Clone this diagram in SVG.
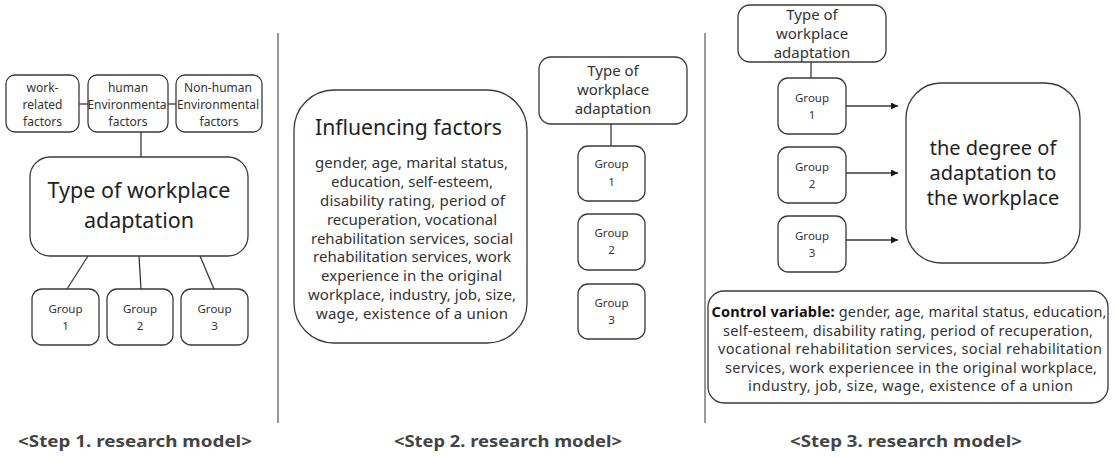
<svg xmlns="http://www.w3.org/2000/svg" width="1115" height="458" viewBox="0 0 1115 458">
  <defs>
    <marker id="arrow" viewBox="0 0 10 10" refX="10" refY="5" markerWidth="7" markerHeight="7" markerUnits="userSpaceOnUse" orient="auto">
      <path d="M0,0 L10,5 L0,10 z" fill="#1a1a1a"/>
    </marker>
    <style>
      .box { fill: #ffffff; stroke: #3a3a3a; stroke-width: 1.3; }
      .link { stroke: #3a3a3a; stroke-width: 1.3; fill: none; }
      .divider { stroke: #555555; stroke-width: 1.2; }
      .t { font-family: "Noto Sans", "Open Sans", sans-serif; fill: #333333; text-anchor: middle; }
      .small { font-size: 12px; }
      .grp { font-size: 11.5px; }
      .mid { font-size: 15px; }
      .body { font-size: 15px; }
      .ctrl { font-size: 14.5px; }
      .big { font-size: 21.5px; fill: #222222; }
      .deg { font-size: 20px; fill: #222222; }
      .caption { font-family: "Noto Sans", "Open Sans", sans-serif; font-size: 16px; font-weight: bold; fill: #444444; text-anchor: middle; }
    </style>
  </defs>

  <rect width="1115" height="458" fill="#ffffff"/>

  <!-- panel dividers -->
  <line class="divider" x1="278" y1="33" x2="278" y2="423"/>
  <line class="divider" x1="705" y1="33" x2="705" y2="423"/>

  <!-- connectors -->
  <g id="connectors">
    <!-- step 1 -->
    <line class="link" x1="79" y1="104" x2="88" y2="104"/>
    <line class="link" x1="168" y1="104" x2="176" y2="104"/>
    <line class="link" x1="141" y1="132" x2="141" y2="157"/>
    <line class="link" x1="88" y1="256" x2="67" y2="289"/>
    <line class="link" x1="139" y1="256" x2="141" y2="289"/>
    <line class="link" x1="200" y1="256" x2="214" y2="289"/>
    <!-- step 2 -->
    <line class="link" x1="611" y1="124" x2="611" y2="146"/>
    <!-- step 3 -->
    <line class="link" x1="811" y1="62" x2="811" y2="78"/>
    <line class="link" x1="846" y1="106" x2="898" y2="106" marker-end="url(#arrow)"/>
    <line class="link" x1="846" y1="173" x2="898" y2="173" marker-end="url(#arrow)"/>
    <line class="link" x1="846" y1="240" x2="898" y2="240" marker-end="url(#arrow)"/>
  </g>

  <!-- Step 1 -->
  <g id="s1-work-related">
    <rect class="box" x="6" y="75" width="73" height="57" rx="9"/>
    <text class="t small" x="42.5" y="92">work-</text>
    <text class="t small" x="42.5" y="109">related</text>
    <text class="t small" x="42.5" y="126">factors</text>
  </g>
  <g id="s1-human-env">
    <rect class="box" x="88" y="75" width="80" height="57" rx="9"/>
    <text class="t small" x="128" y="92">human</text>
    <text class="t small" x="127" y="109">Environmenta</text>
    <text class="t small" x="128" y="126">factors</text>
  </g>
  <g id="s1-nonhuman-env">
    <rect class="box" x="176" y="75" width="86" height="57" rx="9"/>
    <text class="t small" x="218" y="92">Non-human</text>
    <text class="t small" x="218" y="109">Environmental</text>
    <text class="t small" x="219" y="126">factors</text>
  </g>
  <g id="s1-type">
    <rect class="box" x="30" y="157" width="218" height="99" rx="20"/>
    <text class="t big" x="139" y="198">Type of workplace</text>
    <text class="t big" x="139" y="228">adaptation</text>
  </g>
  <g id="s1-group1">
    <rect class="box" x="32" y="289" width="67" height="56" rx="10"/>
    <text class="t grp" x="65.5" y="313">Group</text>
    <text class="t grp" x="65.5" y="330">1</text>
  </g>
  <g id="s1-group2">
    <rect class="box" x="107" y="289" width="66" height="56" rx="10"/>
    <text class="t grp" x="140" y="313">Group</text>
    <text class="t grp" x="140" y="330">2</text>
  </g>
  <g id="s1-group3">
    <rect class="box" x="181" y="289" width="67" height="56" rx="10"/>
    <text class="t grp" x="214.5" y="313">Group</text>
    <text class="t grp" x="214.5" y="330">3</text>
  </g>

  <!-- Step 2 -->
  <g id="s2-influencing">
    <rect class="box" x="294" y="90" width="233" height="253" rx="40"/>
    <text class="t big" x="408.5" y="135" textLength="187" lengthAdjust="spacingAndGlyphs">Influencing factors</text>
    <text class="t body" x="411.5" y="168" textLength="193" lengthAdjust="spacing">gender, age, marital status,</text>
    <text class="t body" x="412" y="187" textLength="162" lengthAdjust="spacing">education, self-esteem,</text>
    <text class="t body" x="412.5" y="206" textLength="185" lengthAdjust="spacing">disability rating, period of</text>
    <text class="t body" x="412" y="225" textLength="170" lengthAdjust="spacing">recuperation, vocational</text>
    <text class="t body" x="412" y="244" textLength="202" lengthAdjust="spacing">rehabilitation services, social</text>
    <text class="t body" x="412" y="262" textLength="198" lengthAdjust="spacing">rehabilitation services, work</text>
    <text class="t body" x="411.5" y="281" textLength="181" lengthAdjust="spacing">experience in the original</text>
    <text class="t body" x="412" y="300" textLength="208" lengthAdjust="spacing">workplace, industry, job, size,</text>
    <text class="t body" x="412" y="319" textLength="192" lengthAdjust="spacing">wage, existence of a union</text>
  </g>
  <g id="s2-type">
    <rect class="box" x="539" y="57" width="148" height="67" rx="12"/>
    <text class="t mid" x="613" y="76">Type of</text>
    <text class="t mid" x="613" y="95">workplace</text>
    <text class="t mid" x="613" y="114">adaptation</text>
  </g>
  <g id="s2-group1">
    <rect class="box" x="578" y="146" width="67" height="55" rx="10"/>
    <text class="t grp" x="611.5" y="168">Group</text>
    <text class="t grp" x="611.5" y="186">1</text>
  </g>
  <g id="s2-group2">
    <rect class="box" x="578" y="214" width="67" height="56" rx="10"/>
    <text class="t grp" x="611.5" y="237">Group</text>
    <text class="t grp" x="611.5" y="254">2</text>
  </g>
  <g id="s2-group3">
    <rect class="box" x="578" y="284" width="67" height="55" rx="10"/>
    <text class="t grp" x="611.5" y="307">Group</text>
    <text class="t grp" x="611.5" y="324">3</text>
  </g>

  <!-- Step 3 -->
  <g id="s3-type">
    <rect class="box" x="738" y="5" width="148" height="57" rx="12"/>
    <text class="t mid" x="812" y="20">Type of</text>
    <text class="t mid" x="812" y="39">workplace</text>
    <text class="t mid" x="812" y="58">adaptation</text>
  </g>
  <g id="s3-group1">
    <rect class="box" x="778" y="78" width="68" height="56" rx="10"/>
    <text class="t grp" x="812" y="102">Group</text>
    <text class="t grp" x="812" y="119">1</text>
  </g>
  <g id="s3-group2">
    <rect class="box" x="778" y="147" width="68" height="56" rx="10"/>
    <text class="t grp" x="812" y="171">Group</text>
    <text class="t grp" x="812" y="188">2</text>
  </g>
  <g id="s3-group3">
    <rect class="box" x="778" y="216" width="68" height="56" rx="10"/>
    <text class="t grp" x="812" y="240">Group</text>
    <text class="t grp" x="812" y="257">3</text>
  </g>
  <g id="s3-degree">
    <rect class="box" x="906" y="83" width="174" height="180" rx="35"/>
    <text class="t deg" x="993" y="155">the degree of</text>
    <text class="t deg" x="993" y="180">adaptation to</text>
    <text class="t deg" x="993" y="205">the workplace</text>
  </g>
  <g id="s3-control">
    <rect class="box" x="708" y="291" width="400" height="112" rx="16"/>
    <text class="t ctrl" x="909" y="317" textLength="395" lengthAdjust="spacing"><tspan font-weight="bold" fill="#111111">Control variable:</tspan> gender, age, marital status, education,</text>
    <text class="t ctrl" x="908" y="335.5" textLength="370" lengthAdjust="spacing">self-esteem, disability rating, period of recuperation,</text>
    <text class="t ctrl" x="910" y="354" textLength="384" lengthAdjust="spacing">vocational rehabilitation services, social rehabilitation</text>
    <text class="t ctrl" x="911" y="372.5" textLength="372" lengthAdjust="spacing">services, work experiencee in the original workplace,</text>
    <text class="t ctrl" x="910.5" y="391" textLength="325" lengthAdjust="spacing">industry, job, size, wage, existence of a union</text>
  </g>

  <!-- captions -->
  <g id="captions">
    <text class="caption" x="135" y="447" textLength="234" lengthAdjust="spacingAndGlyphs">&lt;Step 1. research model&gt;</text>
    <text class="caption" x="508" y="447" textLength="228" lengthAdjust="spacingAndGlyphs">&lt;Step 2. research model&gt;</text>
    <text class="caption" x="906" y="447" textLength="232" lengthAdjust="spacingAndGlyphs">&lt;Step 3. research model&gt;</text>
  </g>
</svg>
